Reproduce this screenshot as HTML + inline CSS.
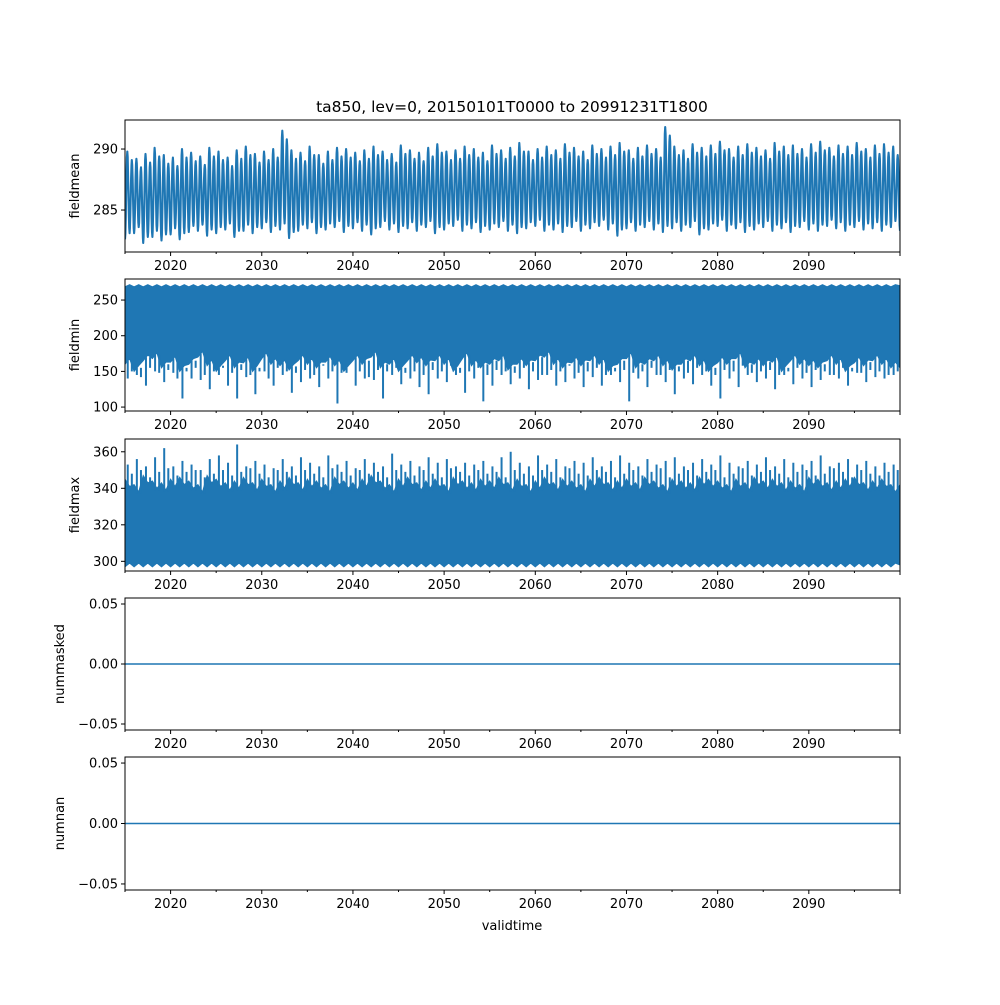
<!DOCTYPE html>
<html><head><meta charset="utf-8"><style>
body{margin:0;background:#fff;font-family:"Liberation Sans","DejaVu Sans",sans-serif}
svg text{font-family:"DejaVu Sans","Liberation Sans",sans-serif;font-size:13px;fill:#000}
</style></head><body>
<svg id="chart" width="1000" height="1000" xmlns="http://www.w3.org/2000/svg">
<rect width="1000" height="1000" fill="#fff"/>
<text x="512" y="112" text-anchor="middle" style="font-size:15.5px">ta850, lev=0, 20150101T0000 to 20991231T1800</text>
<text x="512" y="930" text-anchor="middle">validtime</text>
</svg>
<script>
const years=[];for(let y=2015;y<2100;y++)years.push(y);
const xTicks=[2020,2030,2040,2050,2060,2070,2080,2090];
const p1Max=[289.8,289.2,289.6,290.1,289.5,289.3,290.0,289.7,289.4,290.1,289.8,289.3,289.9,290.2,289.6,289.8,290.0,291.5,289.9,289.7,290.2,289.5,289.8,290.1,290.0,289.7,289.9,290.2,289.8,289.6,290.3,289.9,289.7,290.1,290.4,289.8,289.9,290.2,290.0,289.7,290.3,289.9,290.1,290.5,289.8,290.0,290.2,289.9,290.4,290.1,289.8,290.3,290.0,290.2,290.5,289.9,290.1,290.3,290.0,291.8,290.2,289.9,290.4,290.1,290.3,290.6,290.0,290.2,290.4,290.1,289.9,290.5,290.2,290.3,290.0,290.4,290.6,290.1,290.3,290.2,290.5,290.0,290.3,290.4,290.2];
const p1Min=[282.3,282.8,282.0,282.5,282.2,282.7,282.3,282.9,283.0,282.6,282.8,283.1,282.5,283.0,282.8,283.2,282.9,283.1,282.4,283.0,283.2,282.8,283.1,283.3,282.9,283.2,283.0,282.7,283.3,283.1,282.9,283.2,283.0,283.3,282.8,283.1,283.4,283.0,283.2,282.9,283.1,283.3,283.0,282.8,283.2,283.4,283.0,283.1,282.9,283.3,283.0,283.2,283.4,283.1,282.6,283.2,283.0,283.3,283.1,282.9,283.2,283.0,283.3,282.7,283.1,283.4,283.0,283.2,282.9,283.1,283.3,283.0,283.2,282.9,283.3,283.1,283.0,283.4,283.2,283.0,283.3,283.1,283.2,283.0,283.3];
const p2Top=270;
const p2Low=[160,150,165,168,155,163,150,160,170,158,150,165,155,162,150,168,160,158,152,165,160,155,163,158,150,165,160,170,155,160,150,165,162,158,165,160,150,168,158,155,160,165,152,160,158,165,170,160,155,162,158,165,160,150,160,168,155,160,165,158,152,160,165,158,150,162,160,168,155,160,158,163,150,165,160,158,155,165,160,150,162,158,165,160,155];
const p2Spike=[140,145,130,150,135,148,112,140,138,125,145,130,112,142,118,150,130,145,120,135,140,128,140,105,148,130,140,138,112,145,132,140,128,118,140,135,145,120,140,108,130,145,132,140,125,138,145,130,135,140,128,142,130,145,135,108,140,128,145,135,118,140,132,145,130,112,140,128,145,135,140,125,145,132,140,128,138,145,140,130,148,135,142,140,145];
const p2Spike2=[150,142,155,148,152,140,150,155,145,150,158,148,152,145,150,140,155,150,148,152,145,158,150,148,155,150,142,152,150,155,148,150,145,152,150,158,148,150,155,145,152,150,148,155,150,145,152,150,158,148,150,155,145,150,152,148,150,155,145,152,150,148,155,150,145,152,150,158,148,150,152,145,150,155,148,152,150,145,155,150,148,152,150,145,150];
const p3Bot=298;
const p3High=[345,342,347,344,343,345,346,344,342,347,345,343,344,346,343,345,342,344,346,343,345,344,342,346,344,343,345,347,344,342,345,346,343,344,345,342,346,344,343,345,344,346,343,345,342,344,346,343,345,344,342,345,346,343,344,345,343,346,344,342,345,344,343,346,345,344,342,345,343,346,344,345,343,344,342,346,345,343,344,345,346,343,344,345,342];
const p3Spike=[353,356,352,357,362,352,355,353,350,356,358,354,364,352,355,353,351,356,352,357,354,352,358,353,355,351,356,354,352,359,353,355,352,357,354,356,352,354,353,355,352,357,360,354,352,358,353,356,352,355,354,357,352,355,358,354,352,356,353,355,357,352,354,356,353,358,354,352,355,353,357,352,356,354,353,355,358,352,354,356,353,355,352,354,353];
const p3Spike2=[348,350,346,349,351,347,349,350,346,348,350,347,349,351,348,346,350,349,347,350,348,346,351,349,347,350,348,349,346,350,349,347,350,348,346,351,349,347,350,348,349,346,350,348,347,350,349,346,351,348,347,350,349,346,348,350,347,349,351,346,348,350,347,349,350,346,348,351,347,349,350,348,346,349,350,347,348,351,349,346,350,348,347,349,350];

const svg=document.getElementById('chart');
const NS='http://www.w3.org/2000/svg';
const X0=125,X1=900,T0=2015,T1=2100;
const xs=t=>X0+(t-T0)/(T1-T0)*(X1-X0);
function el(tag,attrs,parent){const e=document.createElementNS(NS,tag);for(const k in attrs)e.setAttribute(k,attrs[k]);(parent||svg).appendChild(e);return e;}
const C='#1f77b4';
const fmtS=v=>v.toFixed(2).replace('-','\u2212');
const panels=[
 {name:'fieldmean',top:120,bot:252,lo:281.56,hi:292.38,ticks:[285,290],fmt:v=>String(v),lab:'fieldmean',lx:79},
 {name:'fieldmin',top:279,bot:411,lo:94.5,hi:279.5,ticks:[100,150,200,250],fmt:v=>String(v),lab:'fieldmin',lx:79},
 {name:'fieldmax',top:439,bot:571,lo:294.7,hi:367,ticks:[300,320,340,360],fmt:v=>String(v),lab:'fieldmax',lx:79},
 {name:'nummasked',top:598,bot:730,lo:-0.055,hi:0.055,ticks:[-0.05,0,0.05],fmt:fmtS,lab:'nummasked',lx:64},
 {name:'numnan',top:757,bot:890,lo:-0.055,hi:0.055,ticks:[-0.05,0,0.05],fmt:fmtS,lab:'numnan',lx:64}];
panels.forEach((p,pi)=>{
 const g=el('g',{});
 
 
 const ys=v=>p.bot-(v-p.lo)/(p.hi-p.lo)*(p.bot-p.top);
 const clipId='c'+pi;
 const cp=el('clipPath',{id:clipId},g);el('rect',{x:X0,y:p.top,width:X1-X0,height:p.bot-p.top},cp);
 const dg=el('g',{'clip-path':`url(#${clipId})`},g);
 
 
 if(pi===0){
  const ext=[];
  years.forEach((y,i)=>{
   const mx=p1Max[i],mn=p1Min[i];
   ext.push([y+0.0,mn+0.3],[y+0.25,mx],[y+0.5,mn+0.8],[y+0.75,mx-0.7]);
  });
  ext.push([2100,p1Min[84]]);
  let d='M'+xs(ext[0][0]).toFixed(1)+','+ys(ext[0][1]).toFixed(1);
  for(let k=1;k<ext.length;k++){
   const [t0,v0]=ext[k-1],[t1,v1]=ext[k];
   for(let s=1;s<=6;s++){const f=s/6,w=(1-Math.cos(Math.PI*f))/2;
    d+='L'+xs(t0+(t1-t0)*f).toFixed(1)+','+ys(v0+(v1-v0)*w).toFixed(1);}
  }
  el('path',{d,fill:'none',stroke:C,'stroke-width':2.1,'stroke-linejoin':'round'},dg);
 } else if(pi===1||pi===2){
  let top='',bot='';
  years.forEach((y,i)=>{
   for(const f of [0,0.5]){
    const t=y+f;
    if(pi===1){top+=`L${xs(t).toFixed(1)},${ys(p2Top+(f?1.5:-1.5)).toFixed(1)}`;bot=`L${xs(t).toFixed(1)},${ys(p2Low[i]+(f?8:0)).toFixed(1)}`+bot;}
    else{bot=`L${xs(t).toFixed(1)},${ys(p3Bot+(f?1:-1)).toFixed(1)}`+bot;top+=`L${xs(t).toFixed(1)},${ys(p3High[i]-(f?4:0)).toFixed(1)}`;}
   }
  });
  top+=`L${X1},${ys(pi===1?p2Top:p3High[84])}`;
  bot=`L${X1},${ys(pi===1?p2Low[84]:p3Bot)}`+bot;
  el('path',{d:'M'+top.slice(1)+bot+'Z',fill:C,stroke:C,'stroke-width':1},dg);
  years.forEach((y,i)=>{
   [[0.3,pi===1?p2Spike[i]:p3Spike[i]],[0.75,pi===1?p2Spike2[i]:p3Spike2[i]]].forEach(([f,v])=>{
    const x=xs(y+f);
    const l=el('line',{x1:x,x2:x,y1:ys(pi===1?p2Low[i]+5:p3High[i]-5),y2:ys(v),stroke:C,'stroke-width':2},dg);
    
    
   });
  });
 } else {
  el('line',{x1:X0,x2:X1,y1:ys(0),y2:ys(0),stroke:C,'stroke-width':1.6},dg);
 }
 el('rect',{x:X0,y:p.top,width:X1-X0,height:p.bot-p.top,fill:'none',stroke:'#000','stroke-width':1},g);
 p.ticks.forEach(v=>{const y=ys(v);el('line',{x1:X0-4,x2:X0,y1:y,y2:y,stroke:'#000'},g);
  const t=el('text',{x:X0-7,y:y+4.5,'text-anchor':'end'},g);t.textContent=p.fmt(v);
  
  });
 for(let yr=2015;yr<=2100;yr+=5){const x=xs(yr);el('line',{x1:x,x2:x,y1:p.bot,y2:p.bot+(yr%10===0?4:2),stroke:'#000'},g);}
 xTicks.forEach(yr=>{const t=el('text',{x:xs(yr),y:p.bot+18,'text-anchor':'middle'},g);t.textContent=yr;
  
  });
 const yl=el('text',{x:0,y:0,'text-anchor':'middle',transform:`translate(${p.lx},${(p.top+p.bot)/2}) rotate(-90)`},g);
 yl.textContent=p.lab;
 
 
});
</script>
</body></html>
